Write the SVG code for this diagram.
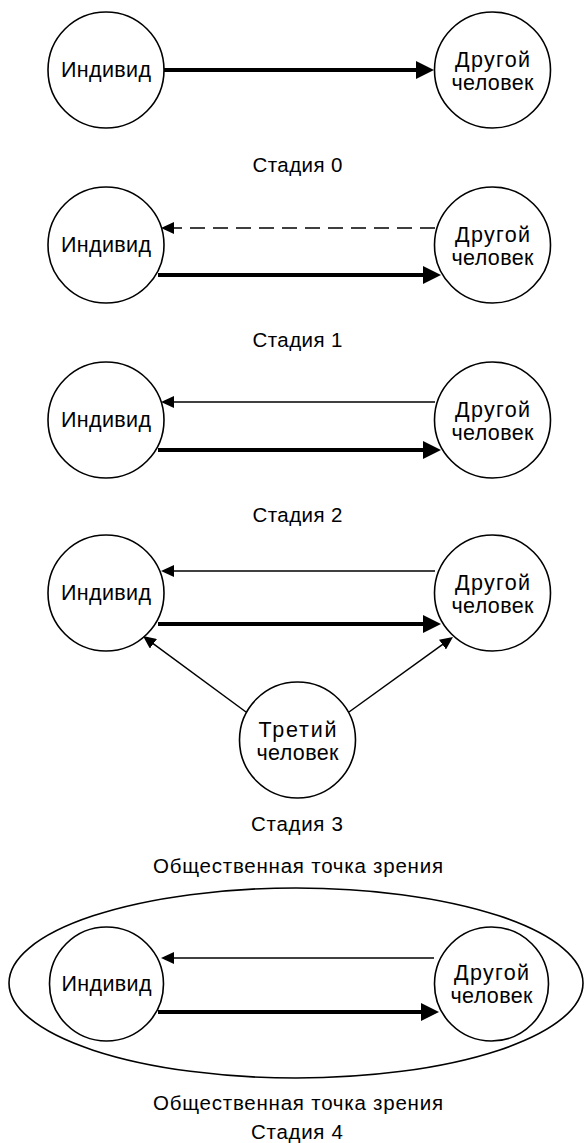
<svg xmlns="http://www.w3.org/2000/svg" width="584" height="1143" viewBox="0 0 584 1143">
<style>
.node{fill:#fff;stroke:#000;stroke-width:1.6}
.nt{font-family:"Liberation Sans",Arial,sans-serif;font-size:21.5px;fill:#000;text-anchor:middle}
.lbl{font-family:"Liberation Sans",Arial,sans-serif;font-size:20.5px;fill:#000;text-anchor:middle}
.thick{stroke:#000;stroke-width:4;fill:none}
.thin{stroke:#000;stroke-width:1.5;fill:none}
.dash{stroke:#000;stroke-width:1.5;fill:none;stroke-dasharray:15 8}
</style>
<defs>
<marker id="hb" markerUnits="userSpaceOnUse" markerWidth="18" markerHeight="18" refX="8" refY="9" orient="auto"><path d="M0,0 L18,9 L0,18 z" fill="#000"/></marker>
<marker id="hs" markerUnits="userSpaceOnUse" markerWidth="13" markerHeight="12" refX="5" refY="6" orient="auto"><path d="M0,0 L13,6 L0,12 z" fill="#000"/></marker>
</defs>
<rect width="584" height="1143" fill="#fff"/>
<g id="ellipse4"><ellipse cx="296" cy="983" rx="287" ry="95" fill="none" stroke="#000" stroke-width="1.6"/></g>
<g id="connectors">
<line class="thick" x1="164" y1="70" x2="424" y2="70" marker-end="url(#hb)"/>
<line class="dash" x1="435" y1="228" x2="169" y2="228" marker-end="url(#hs)"/>
<line class="thick" x1="158" y1="275" x2="431" y2="275" marker-end="url(#hb)"/>
<line class="thin" x1="435" y1="402" x2="169" y2="402" marker-end="url(#hs)"/>
<line class="thick" x1="158" y1="450" x2="431" y2="450" marker-end="url(#hb)"/>
<line class="thin" x1="435" y1="571" x2="169" y2="571" marker-end="url(#hs)"/>
<line class="thick" x1="158" y1="624" x2="431" y2="624" marker-end="url(#hb)"/>
<line class="thin" x1="246" y1="712" x2="149.4" y2="640.8" marker-end="url(#hs)"/>
<line class="thin" x1="349" y1="712" x2="446.5" y2="641.7" marker-end="url(#hs)"/>
<line class="thin" x1="434" y1="958" x2="169" y2="958" marker-end="url(#hs)"/>
<line class="thick" x1="158" y1="1012" x2="429" y2="1012" marker-end="url(#hb)"/>
</g>
<g id="s0-ind"><circle class="node" cx="106" cy="70" r="58"/><text class="nt" x="106" y="77" textLength="90">Индивид</text></g>
<g id="s0-oth"><circle class="node" cx="492.5" cy="70" r="58"/><text class="nt" x="492.5" y="67" textLength="75">Другой</text><text class="nt" x="492.5" y="90" textLength="82">человек</text></g>
<g id="s0-label"><text class="lbl" x="297.5" y="172" textLength="90">Стадия 0</text></g>
<g id="s1-ind"><circle class="node" cx="106" cy="245" r="58"/><text class="nt" x="106" y="252" textLength="90">Индивид</text></g>
<g id="s1-oth"><circle class="node" cx="492.5" cy="245" r="58"/><text class="nt" x="492.5" y="242" textLength="75">Другой</text><text class="nt" x="492.5" y="265" textLength="82">человек</text></g>
<g id="s1-label"><text class="lbl" x="297.5" y="347" textLength="90">Стадия 1</text></g>
<g id="s2-ind"><circle class="node" cx="106" cy="420" r="58"/><text class="nt" x="106" y="427" textLength="90">Индивид</text></g>
<g id="s2-oth"><circle class="node" cx="492.5" cy="420" r="58"/><text class="nt" x="492.5" y="417" textLength="75">Другой</text><text class="nt" x="492.5" y="440" textLength="82">человек</text></g>
<g id="s2-label"><text class="lbl" x="297.5" y="522" textLength="90">Стадия 2</text></g>
<g id="s3-ind"><circle class="node" cx="106" cy="593" r="58"/><text class="nt" x="106" y="600" textLength="90">Индивид</text></g>
<g id="s3-oth"><circle class="node" cx="492.5" cy="593" r="58"/><text class="nt" x="492.5" y="590" textLength="75">Другой</text><text class="nt" x="492.5" y="613" textLength="82">человек</text></g>
<g id="s3-third"><circle class="node" cx="297.5" cy="740" r="58"/><text class="nt" x="297.5" y="737" textLength="78">Третий</text><text class="nt" x="297.5" y="760" textLength="82">человек</text></g>
<g id="s3-label"><text class="lbl" x="297" y="831" textLength="92">Стадия 3</text></g>
<g id="s4-top"><text class="lbl" x="298" y="873" textLength="290">Общественная точка зрения</text></g>
<g id="s4-ind"><circle class="node" cx="106.5" cy="984" r="57"/><text class="nt" x="106.5" y="991" textLength="90">Индивид</text></g>
<g id="s4-oth"><circle class="node" cx="491.5" cy="984" r="57"/><text class="nt" x="491.5" y="980" textLength="75">Другой</text><text class="nt" x="491.5" y="1003" textLength="82">человек</text></g>
<g id="s4-bottom"><text class="lbl" x="298" y="1110" textLength="290">Общественная точка зрения</text></g>
<g id="s4-label"><text class="lbl" x="297" y="1139" textLength="92">Стадия 4</text></g>
</svg>
